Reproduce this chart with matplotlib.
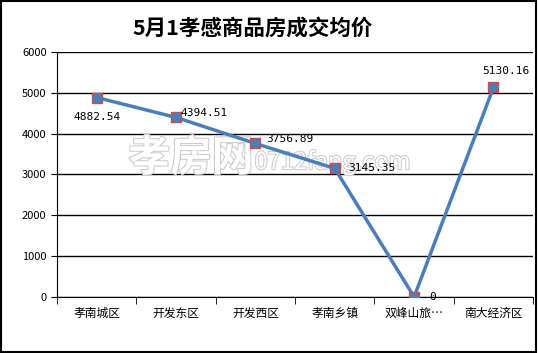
import matplotlib.pyplot as plt
import matplotlib.patheffects as pe

plt.rcParams['font.family'] = ['Noto Sans CJK SC', 'DejaVu Sans']

categories = ['孝南城区', '开发东区', '开发西区', '孝南乡镇', '双峰山旅…', '南大经济区']
prices = [4882.54, 4394.51, 3756.89, 3145.35, 0, 5130.16]
labels = ['4882.54', '4394.51', '3756.89', '3145.35', '0', '5130.16']
# label offsets in points (dx, dy) and alignment
offsets = [(0, -14, 'center'), (3, 3.5, 'left'), (8, 3, 'left'), (10, 0.5, 'left'),
           (11, 0, 'left'), (9, 12, 'center')]

fig = plt.figure(figsize=(5.38, 3.53), dpi=100)
fig.patches.append(plt.Rectangle((0.002, 0.003), 0.995, 0.994, transform=fig.transFigure,
                                 fill=False, edgecolor='black', linewidth=1.5))
ax = fig.add_axes([0.106, 0.159, 0.885, 0.694])

x = list(range(len(categories)))

# watermark
ax.text(0.15, 0.565, '孝房网', transform=ax.transAxes, fontsize=30, fontweight='bold',
        color='white', va='center', ha='left', zorder=1,
        path_effects=[pe.withStroke(linewidth=1.5, foreground='#cccccc')])
ax.text(0.415, 0.55, '0712fang.com', transform=ax.transAxes, fontsize=17,
        color='white', va='center', ha='left', zorder=1,
        path_effects=[pe.withStroke(linewidth=1.5, foreground='#cccccc')])

ax.plot(x, prices, color='#4A7EBB', linewidth=2.5, zorder=3)
ax.plot(x, prices, linestyle='none', marker='s', markersize=7.5, markerfacecolor='#C0504D',
        markeredgecolor='#C0504D', zorder=4)
ax.plot(x, prices, linestyle='none', marker='D', markersize=5.5, markerfacecolor='#4A7EBB',
        markeredgecolor='#4A7EBB', zorder=5)

for xi, yi, lab, (dx, dy, ha) in zip(x, prices, labels, offsets):
    ax.annotate(lab, (xi, yi), xytext=(dx, dy), textcoords='offset points',
                ha=ha, va='center', fontsize=8, family='DejaVu Sans Mono',
                color='black', zorder=6)

ax.set_xlim(-0.5, len(categories) - 0.5)
ax.set_ylim(0, 6000)
ax.set_yticks(range(0, 6001, 1000))
ax.yaxis.grid(True, color='black', linewidth=1)
ax.set_axisbelow(True)

ax.set_xticks(x)
ax.set_xticklabels(categories, fontsize=8.5)
ax.tick_params(axis='x', length=0, pad=7)
ax.set_xticks([i - 0.5 for i in range(len(categories) + 1)], minor=True)
ax.tick_params(axis='x', which='minor', length=5, direction='out', color='black')
ax.tick_params(axis='y', labelsize=8, length=4, direction='out')

for s in ['top', 'right']:
    ax.spines[s].set_visible(False)
ax.spines['left'].set_color('black')
ax.spines['bottom'].set_color('black')

fig.text(0.47, 0.92, '5月1孝感商品房成交均价', ha='center', va='center',
         fontsize=15.5, fontweight='bold')

fig.savefig('out.png', dpi=100)
